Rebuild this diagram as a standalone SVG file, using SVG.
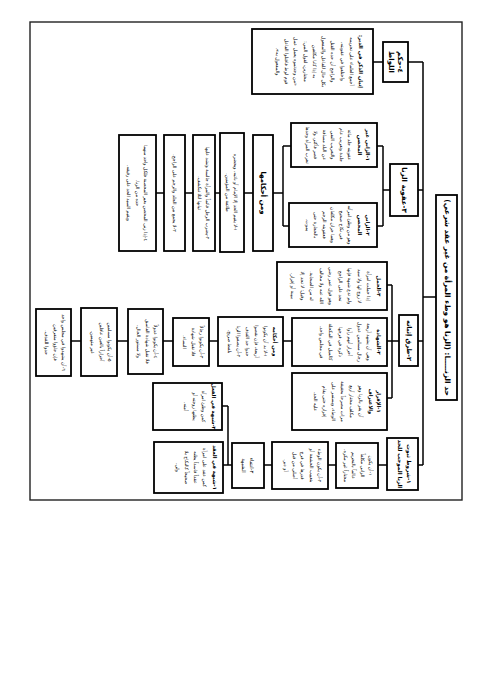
<svg xmlns="http://www.w3.org/2000/svg" width="491" height="694" viewBox="0 0 491 694">
<style>
.bx{fill:#fff;stroke:#000;stroke-width:1.8}
.fr{fill:none;stroke:#222;stroke-width:1.4}
.ln{fill:none;stroke:#000;stroke-width:1.5}
text{font-family:"DejaVu Sans",sans-serif;fill:#000;direction:rtl;text-anchor:middle}
.s{font-size:4.7px}
.h{font-weight:bold;font-size:5.2px}
.t{font-size:7.4px;font-weight:bold}
.l{font-size:7px;font-weight:bold}
</style>
<rect width="491" height="694" fill="#fff"/>
<rect class="fr" x="30" y="22" width="432" height="478"/>

<g id="connectors">
<path class="ln" d="M423,62V465M423,297H436M408,62H423M373,62H383"/>
<path class="ln" d="M418,190H423M383,190H390M383,146V226M377,146H383M377,226H383M283,146H291M283,226H289M283,146V226M273,193H283M244,193H253M215,193H220M185,193H193M156,193H164"/>
<path class="ln" d="M418,341H423M392,341H399M392,285V398M387,285H392M387,341H392M387,398H392M283,341H292M209,341H218M163,341H173M117,341H128M71,341H81"/>
<path class="ln" d="M418,465H423M378,465H387M328,465H336M264,465H272M228,406V465M222,406H228M223,465H228M228,465H232"/>
</g>

<g id="title">
<rect class="bx" x="436" y="195" width="21" height="205"/>
<text class="t" transform="translate(457,297.5) rotate(90)"><tspan x="0" y="12.5">حد الزنـــــا: (الزنا هو وطء المرأة من غير عقد شرعي)</tspan></text>
</g>

<g id="b4">
<rect class="bx" x="383" y="42" width="25" height="40"/>
<text class="l" transform="translate(408,62) rotate(90)"><tspan x="0" y="10">٤-حكم</tspan><tspan x="0" y="19">اللواط</tspan></text>
</g>
<g id="b4-d">
<rect class="bx" x="252" y="29" width="121" height="65"/>
<text class="s" transform="translate(373,61.5) rotate(90)"><tspan class="h" x="0" y="14">إتيان الذكر في الدبر:</tspan><tspan x="0" y="23">أجمع العلماء على تحريمه</tspan><tspan x="0" y="32.3">واختلفوا في عقوبته،</tspan><tspan x="0" y="41.6">والراجح أن حده القتل</tspan><tspan x="0" y="50.9">بكل حال للفاعل والمفعول</tspan><tspan x="0" y="60.2">به إذا كانا مكلفين</tspan><tspan x="0" y="69.5">مختارين، لقول النبي:</tspan><tspan x="0" y="78.8">«من وجدتموه يعمل عمل</tspan><tspan x="0" y="88.1">قوم لوط فاقتلوا الفاعل</tspan><tspan x="0" y="97.4">والمفعول به».</tspan></text>
</g>

<g id="b3">
<rect class="bx" x="390" y="164" width="28" height="52"/>
<text class="l" transform="translate(418,190) rotate(90)"><tspan x="0" y="16">٣-عقوبة الزنا</tspan></text>
</g>
<g id="b3-1">
<rect class="bx" x="291" y="123" width="86" height="44"/>
<text class="s" transform="translate(377,145) rotate(90)"><tspan class="h" x="0" y="11">١-الزاني غير</tspan><tspan class="h" x="0" y="19">المحصن</tspan><tspan x="0" y="29">عقوبته جلد مائة</tspan><tspan x="0" y="37.5">جلدة وتغريب عام</tspan><tspan x="0" y="46">والتغريب النفي</tspan><tspan x="0" y="54.5">عن البلد مسافة</tspan><tspan x="0" y="63">قصر فأكثر، ولا</tspan><tspan x="0" y="71.5">تغرب المرأة وحدها</tspan></text>
</g>
<g id="b3-2">
<rect class="bx" x="289" y="203" width="88" height="44"/>
<text class="s" transform="translate(377,225) rotate(90)"><tspan class="h" x="0" y="11">٢-الزاني</tspan><tspan class="h" x="0" y="19">المحصن</tspan><tspan x="0" y="29">وهو من وطئ امرأته</tspan><tspan x="0" y="37.5">في نكاح صحيح</tspan><tspan x="0" y="46">وهما حران مكلفان</tspan><tspan x="0" y="54.5">فعقوبته الرجم</tspan><tspan x="0" y="63">بالحجارة حتى</tspan><tspan x="0" y="71.5">يموت.</tspan></text>
</g>
<g id="b3-a">
<rect class="bx" x="253" y="135" width="20" height="116"/>
<text class="l" transform="translate(273,193) rotate(90)"><tspan x="0" y="12">ومن أحكامها</tspan></text>
</g>
<g id="b3-a1">
<rect class="bx" x="220" y="133" width="24" height="119"/>
<text class="s" transform="translate(244,192.5) rotate(90)"><tspan x="0" y="10">١-لا يقيم الحد إلا الإمام أو نائبه، ويحضره</tspan><tspan x="0" y="18">طائفة من المؤمنين.</tspan></text>
</g>
<g id="b3-a2">
<rect class="bx" x="193" y="135" width="22" height="116"/>
<text class="s" transform="translate(215,193) rotate(90)"><tspan x="0" y="9">٢-يضرب الرجل قائماً والمرأة جالسة وتشد عليها</tspan><tspan x="0" y="17">ثيابها لئلا تنكشف.</tspan></text>
</g>
<g id="b3-a3">
<rect class="bx" x="164" y="135" width="21" height="116"/>
<text class="s" transform="translate(185,193) rotate(90)"><tspan x="0" y="12">٣-لا يجمع بين الجلد والرجم على الراجح.</tspan></text>
</g>
<g id="b3-a4">
<rect class="bx" x="119" y="135" width="37" height="116"/>
<text class="s" transform="translate(156,193) rotate(90)"><tspan x="0" y="12">٤-إذا زنى المحصن بغير المحصنة فلكل واحد منهما</tspan><tspan x="0" y="20.5">حده من الزنا.</tspan><tspan x="0" y="29">ويقيم السيد الحد على رقيقه.</tspan></text>
</g>

<g id="b2">
<rect class="bx" x="399" y="315" width="19" height="51"/>
<text class="l" style="font-size:6.5px" transform="translate(418,340.5) rotate(90)"><tspan x="0" y="11.5">٢-طرق إثباته</tspan></text>
</g>
<g id="b2-3">
<rect class="bx" x="277" y="262" width="110" height="48"/>
<text class="s" transform="translate(387,286) rotate(90)"><tspan class="h" x="0" y="10">٣-الحمل</tspan><tspan x="0" y="20">إذا حملت امرأة</tspan><tspan x="0" y="29.5">لا زوج لها ولا سيد</tspan><tspan x="0" y="39">ولم تدع شبهة فإنها</tspan><tspan x="0" y="48.5">تحد على الراجح</tspan><tspan x="0" y="58">وهو قول عمر رضي</tspan><tspan x="0" y="67.5">الله عنه ولا مخالف</tspan><tspan x="0" y="77">له من الصحابة.</tspan><tspan x="0" y="86.5">وقيل: لا تحد إلا</tspan><tspan x="0" y="96">ببينة أو إقرار.</tspan></text>
</g>
<g id="b2-2">
<rect class="bx" x="292" y="318" width="95" height="48"/>
<text class="s" transform="translate(387,342) rotate(90)"><tspan class="h" x="0" y="10">٢-الشهادة</tspan><tspan x="0" y="20">وهي أن يشهد أربعة</tspan><tspan x="0" y="29.5">رجال مسلمين عدول</tspan><tspan x="0" y="39">أحرار أنهم رأوا</tspan><tspan x="0" y="48.5">ذكره في فرجها</tspan><tspan x="0" y="58">كالميل في المكحلة</tspan><tspan x="0" y="67.5">في مجلس واحد.</tspan></text>
</g>
<g id="b2-1">
<rect class="bx" x="292" y="373" width="95" height="57"/>
<text class="s" transform="translate(387,401.5) rotate(90)"><tspan class="h" x="0" y="10">١-الإقرار</tspan><tspan class="h" x="0" y="18.5">والاعتراف</tspan><tspan x="0" y="28">أن يقر بالزنا وهو</tspan><tspan x="0" y="37">مكلف مختار أربع</tspan><tspan x="0" y="46">مرات مصرحاً بحقيقة</tspan><tspan x="0" y="55">الوطء، ويستمر على</tspan><tspan x="0" y="64">إقراره حتى يقام</tspan><tspan x="0" y="73">عليه الحد.</tspan></text>
</g>
<g id="b2-a">
<rect class="bx" x="218" y="317" width="65" height="49"/>
<text class="s" transform="translate(283,341.5) rotate(90)"><tspan class="h" x="0" y="10">ومن أحكامه</tspan><tspan x="0" y="19">١-لا بد أن يكونوا</tspan><tspan x="0" y="28">أربعة، فإن نقصوا</tspan><tspan x="0" y="37">حدوا حد القذف</tspan><tspan x="0" y="46">٢-أن يصفوا الزنا</tspan><tspan x="0" y="55">بلفظ صريح.</tspan></text>
</g>
<g id="b2-a3">
<rect class="bx" x="173" y="318" width="36" height="48"/>
<text class="s" transform="translate(209,342) rotate(90)"><tspan x="0" y="9">٣-أن يكونوا رجالاً</tspan><tspan x="0" y="17.5">فلا تقبل شهادة</tspan><tspan x="0" y="26">النساء.</tspan></text>
</g>
<g id="b2-a4">
<rect class="bx" x="128" y="309" width="35" height="65"/>
<text class="s" transform="translate(163,341.5) rotate(90)"><tspan x="0" y="9">٤-أن يكونوا عدولاً</tspan><tspan x="0" y="17.5">فلا تقبل شهادة الفاسق</tspan><tspan x="0" y="26">ولا مستور الحال.</tspan></text>
</g>
<g id="b2-a5">
<rect class="bx" x="81" y="308" width="36" height="68"/>
<text class="s" transform="translate(117,342) rotate(90)"><tspan x="0" y="9">٥-أن يكونوا مسلمين</tspan><tspan x="0" y="17.5">أحراراً بالغين عاقلين</tspan><tspan x="0" y="26">غير متهمين.</tspan></text>
</g>
<g id="b2-a6">
<rect class="bx" x="36" y="309" width="35" height="67"/>
<text class="s" transform="translate(71,342.5) rotate(90)"><tspan x="0" y="9">٦-أن يشهدوا في مجلس واحد</tspan><tspan x="0" y="17.5">فإن جاؤوا متفرقين</tspan><tspan x="0" y="26">حدوا للقذف.</tspan></text>
</g>

<g id="b1">
<rect class="bx" x="387" y="438" width="31" height="52"/>
<text class="l" style="font-size:5.6px" transform="translate(418,464) rotate(90)"><tspan x="0" y="11">١-شروط ثبوت</tspan><tspan x="0" y="20">الزنا الموجب للحد</tspan></text>
</g>
<g id="b1-1">
<rect class="bx" x="336" y="443" width="42" height="45"/>
<text class="s" transform="translate(378,465.5) rotate(90)"><tspan x="0" y="9">١-أن يكون</tspan><tspan x="0" y="17.5">الزاني مكلفاً</tspan><tspan x="0" y="26">عالماً بالتحريم</tspan><tspan x="0" y="34.5">مختاراً غير مكره.</tspan></text>
</g>
<g id="b1-2">
<rect class="bx" x="272" y="442" width="56" height="47"/>
<text class="s" transform="translate(328,465.5) rotate(90)"><tspan x="0" y="10">٢-أن يكون الوطء</tspan><tspan x="0" y="18.5">بتغييب الحشفة أو</tspan><tspan x="0" y="27">قدرها في فرج</tspan><tspan x="0" y="35.5">أصلي من قبل</tspan><tspan x="0" y="44">أو دبر.</tspan></text>
</g>
<g id="b1-3">
<rect class="bx" x="232" y="443" width="32" height="45"/>
<text class="s" style="font-size:5.2px" transform="translate(264,465.5) rotate(90)"><tspan x="0" y="14">٣-انتفاء</tspan><tspan x="0" y="22.5">الشبهة</tspan></text>
</g>
<g id="b1-3b">
<rect class="bx" x="153" y="383" width="69" height="47"/>
<text class="s" transform="translate(222,406.5) rotate(90)"><tspan class="h" x="0" y="10">٢-شبهة في الفعل</tspan><tspan x="0" y="20">كمن وطئ امرأة</tspan><tspan x="0" y="29">يظنها زوجته أو</tspan><tspan x="0" y="38">أمته.</tspan></text>
</g>
<g id="b1-3a">
<rect class="bx" x="154" y="442" width="69" height="51"/>
<text class="s" transform="translate(223,467.5) rotate(90)"><tspan class="h" x="0" y="10">١-شبهة في العقد</tspan><tspan x="0" y="20">كمن عقد على امرأة</tspan><tspan x="0" y="29">عقداً فاسداً يظنه</tspan><tspan x="0" y="38">صحيحاً كالنكاح بلا</tspan><tspan x="0" y="47">ولي.</tspan></text>
</g>
</svg>
